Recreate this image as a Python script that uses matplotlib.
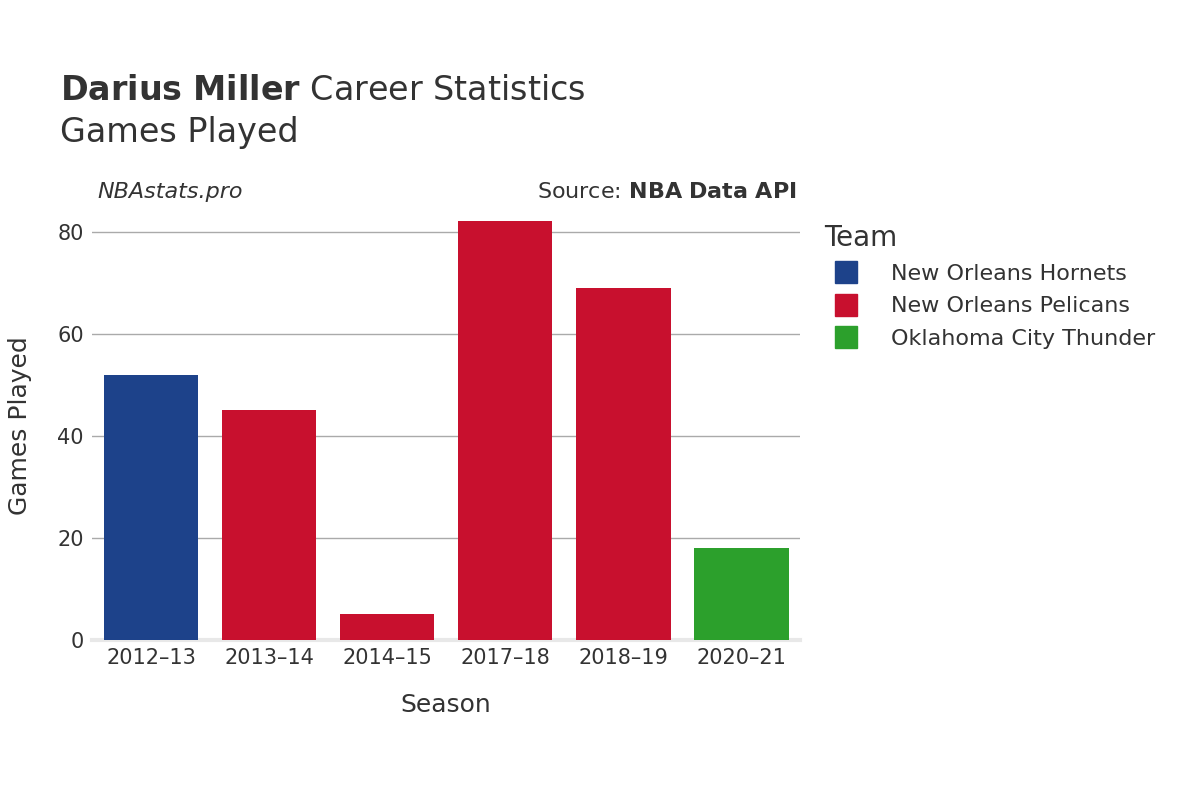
import matplotlib
matplotlib.use('Agg')
from matplotlib import pyplot as plt
from matplotlib.lines import Line2D

seasons = ['2012–13', '2013–14', '2014–15', '2017–18', '2018–19', '2020–21']
games = [52, 45, 5, 82, 69, 18]
teams = ['New Orleans Hornets', 'New Orleans Pelicans', 'New Orleans Pelicans',
         'New Orleans Pelicans', 'New Orleans Pelicans', 'Oklahoma City Thunder']
team_names = ['New Orleans Hornets', 'New Orleans Pelicans', 'Oklahoma City Thunder']
team_colors = {'New Orleans Hornets': '#1d428a',
               'New Orleans Pelicans': '#c8102e',
               'Oklahoma City Thunder': '#2ca02c'}
yticks = [0, 20, 40, 60, 80]

text_color = '#333333'
plt.rcParams['font.family'] = 'DejaVu Sans'

fig = plt.figure(figsize=(12, 8), dpi=100)
ax = fig.add_axes([0.0767, 0.2, 0.5903, 0.536])

x = range(len(seasons))
ax.bar(x, games, width=0.8, color=[team_colors[t] for t in teams], zorder=3)

ax.set_xlim(-0.5, len(seasons) - 0.5)
ax.set_ylim(0, 84)
ax.set_yticks(yticks)
ax.set_xticks(list(x))
ax.set_xticklabels(seasons)
ax.tick_params(axis='both', length=0, labelsize=15, labelcolor=text_color, pad=6)
ax.grid(axis='y', color='#aaaaaa', linewidth=1, zorder=0)
for s in ['top', 'right', 'left']:
    ax.spines[s].set_visible(False)
ax.spines['bottom'].set_color('#e8e8e8')
ax.spines['bottom'].set_linewidth(3)

ax.set_xlabel('Season', fontsize=18, color=text_color, labelpad=18)
ax.set_ylabel('Games Played', fontsize=18, color=text_color, labelpad=18)

fig.text(0.05, 0.875, r'$\bf{Darius\ Miller}$ Career Statistics', fontsize=24,
         color=text_color, va='baseline')
fig.text(0.05, 0.823, 'Games Played', fontsize=24, color=text_color, va='baseline')
fig.text(0.081, 0.752, 'NBAstats.pro', fontsize=16, style='italic', color=text_color)
fig.text(0.664, 0.752, r'Source: $\bf{NBA\ Data\ API}$', fontsize=16,
         color=text_color, ha='right')

handles = [Line2D([], [], marker='s', linestyle='', markersize=16,
                  markerfacecolor=team_colors[t], markeredgecolor=team_colors[t])
           for t in team_names]
leg = fig.legend(handles, team_names, loc='upper left', bbox_to_anchor=(0.67, 0.745),
                 frameon=False, fontsize=16, title='Team', title_fontsize=20,
                 labelspacing=0.55, handletextpad=1.0, alignment='left')
for t in leg.get_texts():
    t.set_color(text_color)
leg.get_title().set_color(text_color)

fig.savefig('out.png', dpi=100)
